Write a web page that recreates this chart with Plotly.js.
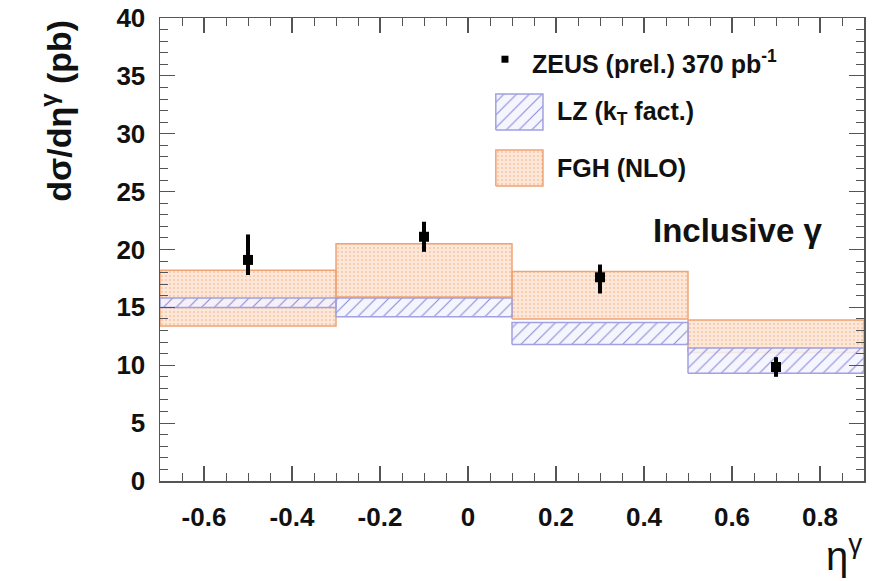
<!DOCTYPE html>
<html>
<head>
<meta charset="utf-8">
<script src="https://cdn.plot.ly/plotly-3.0.1.min.js"></script>
<style>html,body{margin:0;padding:0;background:#fff}</style>
</head>
<body>
<div id="chart" style="width:874px;height:581px"></div>
<script>
// ---- data ----
var binLo = [-0.7, -0.3, 0.1, 0.5];
var binHi = [-0.3, 0.1, 0.5, 0.9];
var fghLow  = [13.4, 15.9, 14.0, 11.1];
var fghHigh = [18.2, 20.5, 18.1, 13.9];
var lzLow   = [15.0, 14.2, 11.8, 9.3];
var lzHigh  = [15.8, 15.8, 13.7, 11.5];
var zeusX = [-0.5, -0.1, 0.3, 0.7];
var zeusY = [19.1, 21.1, 17.6, 9.85];
var zeusErrPlus  = [2.2, 1.3, 1.1, 0.85];
var zeusErrMinus = [1.3, 1.3, 1.4, 0.85];
var xTickVals = [-0.6, -0.4, -0.2, 0, 0.2, 0.4, 0.6, 0.8];
var xTickText = ['-0.6', '-0.4', '-0.2', '0', '0.2', '0.4', '0.6', '0.8'];
var yTickVals = [0, 5, 10, 15, 20, 25, 30, 35, 40];

function rects(lo, hi, bot, top) {
  var xs = [], ys = [];
  for (var i = 0; i < lo.length; i++) {
    xs.push(lo[i], hi[i], hi[i], lo[i], lo[i], null);
    ys.push(bot[i], bot[i], top[i], top[i], bot[i], null);
  }
  return {x: xs, y: ys};
}

var FONT = 'Liberation Sans, Arial, Helvetica, sans-serif';
var fghPattern = {shape: '.', bgcolor: 'rgba(253,231,216,1)', fgcolor: '#f6c6a6', size: 4, solidity: 0.2};
var lzPattern  = {shape: '/', bgcolor: 'rgba(243,243,253,0.85)', fgcolor: '#8a8ad8', size: 9, solidity: 0.12};
var fghLine = {color: '#f0a474', width: 1.5};
var lzLine  = {color: '#a0a0e2', width: 1.5};

var fgh = rects(binLo, binHi, fghLow, fghHigh);
var lz  = rects(binLo, binHi, lzLow, lzHigh);

var traces = [
  {type: 'scatter', mode: 'lines', x: fgh.x, y: fgh.y, fill: 'toself',
   fillcolor: 'rgba(253,231,216,1)', fillpattern: fghPattern, line: fghLine, hoverinfo: 'skip', showlegend: false},
  {type: 'scatter', mode: 'lines', x: lz.x, y: lz.y, fill: 'toself',
   fillcolor: 'rgba(243,243,253,0.85)', fillpattern: lzPattern, line: lzLine, hoverinfo: 'skip', showlegend: false},
  {type: 'scatter', mode: 'markers', x: zeusX, y: zeusY,
   marker: {symbol: 'square', size: 10, color: '#000'},
   error_y: {type: 'data', symmetric: false, array: zeusErrPlus, arrayminus: zeusErrMinus,
             color: '#000', thickness: 4, width: 0},
   showlegend: false},
  // legend symbols (overlay axes spanning the plot area)
  {type: 'scatter', mode: 'markers', x: [0.490], y: [0.911], xaxis: 'x2', yaxis: 'y2',
   marker: {symbol: 'square', size: 7, color: '#000'}, showlegend: false, hoverinfo: 'skip'},
  {type: 'scatter', mode: 'lines', x: [0.477, 0.544, 0.544, 0.477, 0.477], y: [0.758, 0.758, 0.836, 0.836, 0.758],
   xaxis: 'x2', yaxis: 'y2', fill: 'toself', fillcolor: 'rgba(243,243,253,0.85)', fillpattern: lzPattern,
   line: lzLine, showlegend: false, hoverinfo: 'skip'},
  {type: 'scatter', mode: 'lines', x: [0.477, 0.544, 0.544, 0.477, 0.477], y: [0.637, 0.637, 0.715, 0.715, 0.637],
   xaxis: 'x2', yaxis: 'y2', fill: 'toself', fillcolor: 'rgba(253,231,216,1)', fillpattern: fghPattern,
   line: fghLine, showlegend: false, hoverinfo: 'skip'}
];

var axCommon = {
  showline: true, linecolor: '#555', linewidth: 1.5, mirror: 'allticks',
  ticks: 'inside', ticklen: 15, tickwidth: 1.2, tickcolor: '#555',
  showgrid: false, zeroline: false,
  tickfont: {family: FONT, size: 26, color: '#111', weight: 700}
};

var layout = {
  width: 874, height: 581,
  margin: {l: 160, r: 10, t: 18, b: 100},
  paper_bgcolor: '#fff', plot_bgcolor: '#fff',
  showlegend: false,
  xaxis: Object.assign({}, axCommon, {
    range: [-0.7, 0.9], tickmode: 'array', tickvals: xTickVals, ticktext: xTickText,
    ticklabelstandoff: 12,
    minor: {ticks: 'inside', dtick: 0.05, ticklen: 8, tickcolor: '#555', tickwidth: 1}
  }),
  yaxis: Object.assign({}, axCommon, {
    range: [0, 40], tickmode: 'array', tickvals: yTickVals,
    ticklabelstandoff: 8,
    minor: {ticks: 'inside', dtick: 1, ticklen: 8, tickcolor: '#555', tickwidth: 1}
  }),
  xaxis2: {overlaying: 'x', range: [0, 1], visible: false, fixedrange: true},
  yaxis2: {overlaying: 'y', range: [0, 1], visible: false, fixedrange: true},
  annotations: [
    {xref: 'paper', yref: 'paper', x: -0.148, y: 1.0, xanchor: 'center', yanchor: 'top',
     textangle: -90, showarrow: false, text: 'dσ/dη<sup>γ</sup> (pb)',
     font: {family: FONT, size: 34, color: '#111', weight: 700}},
    {xref: 'paper', yref: 'paper', x: 1.0, y: -0.155, xanchor: 'right', yanchor: 'middle',
     showarrow: false, text: 'η<sup>γ</sup>', font: {family: FONT, size: 40, color: '#111'}},
    {xref: 'paper', yref: 'paper', x: 0.697, y: 0.542, xanchor: 'left', yanchor: 'middle',
     showarrow: false, text: 'Inclusive γ', font: {family: FONT, size: 33, color: '#111', weight: 700}},
    {xref: 'paper', yref: 'paper', x: 0.526, y: 0.905, xanchor: 'left', yanchor: 'middle',
     showarrow: false, text: 'ZEUS (prel.) 370 pb<sup>-1</sup>', font: {family: FONT, size: 25, color: '#111', weight: 700}},
    {xref: 'paper', yref: 'paper', x: 0.561, y: 0.795, xanchor: 'left', yanchor: 'middle',
     showarrow: false, text: 'LZ (k<sub>T</sub> fact.)', font: {family: FONT, size: 25, color: '#111', weight: 700}},
    {xref: 'paper', yref: 'paper', x: 0.561, y: 0.676, xanchor: 'left', yanchor: 'middle',
     showarrow: false, text: 'FGH (NLO)', font: {family: FONT, size: 25, color: '#111', weight: 700}}
  ]
};

Plotly.newPlot('chart', traces, layout, {displayModeBar: false, staticPlot: true});
</script>
</body>
</html>
